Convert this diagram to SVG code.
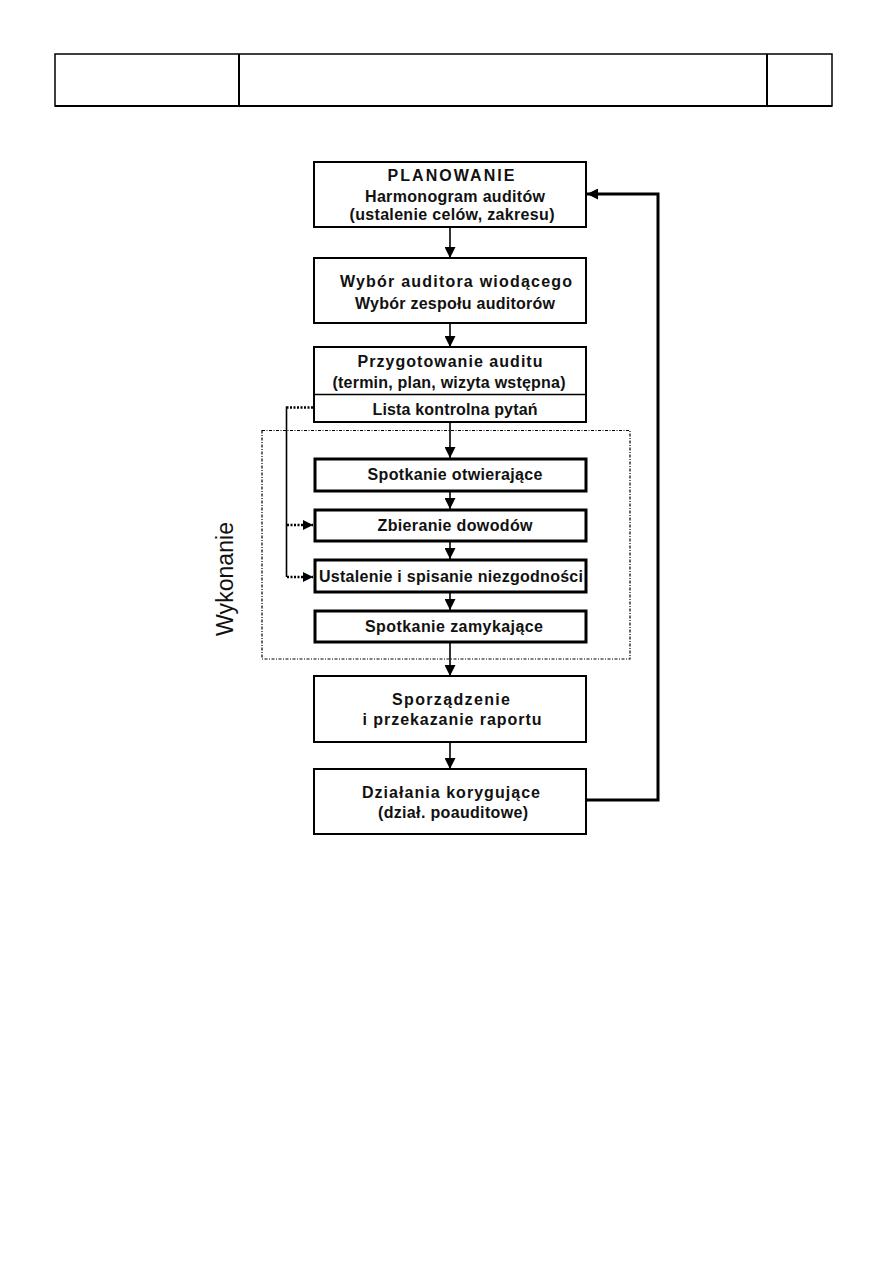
<svg xmlns="http://www.w3.org/2000/svg" width="893" height="1263" viewBox="0 0 893 1263">
<style>
.box{fill:#fff;stroke:#000;stroke-width:2}
.thick{fill:#fff;stroke:#000;stroke-width:3}
.t{font-family:"Liberation Sans",Arial,sans-serif;font-size:16px;font-weight:bold;fill:#111;text-anchor:middle}
.ln{fill:none;stroke:#000;stroke-width:1.6}
.dot{fill:none;stroke:#000;stroke-width:2.5;stroke-dasharray:2,1.5}
.hdr{fill:none;stroke:#000;stroke-width:1.5}
</style>
<defs>
<marker id="ah" viewBox="0 0 10 10" refX="10" refY="5" markerWidth="11" markerHeight="11" markerUnits="userSpaceOnUse" orient="auto">
<path d="M0,0 L10,5 L0,10 z" fill="#000"/>
</marker>
<marker id="ah2" viewBox="0 0 10 10" refX="10" refY="5" markerWidth="10" markerHeight="10" markerUnits="userSpaceOnUse" orient="auto">
<path d="M0,0 L10,5 L0,10 z" fill="#000"/>
</marker>
</defs>
<rect width="893" height="1263" fill="#fff"/>
<g id="header">
<rect x="55" y="54" width="777" height="52" class="hdr"/>
<line x1="55" y1="106" x2="832" y2="106" stroke="#000" stroke-width="2"/>
<line x1="239" y1="54" x2="239" y2="106" stroke="#000" stroke-width="2"/>
<line x1="767" y1="54" x2="767" y2="106" stroke="#000" stroke-width="2"/>
</g>
<g id="wykonanie-frame">
<rect x="262" y="430.5" width="368" height="228.5" fill="none" stroke="#000" stroke-width="1.2" stroke-dasharray="3,1.5,1,1.5"/>
<text class="t" style="font-weight:normal;font-size:23px" transform="translate(233,579) rotate(-90)" textLength="114" lengthAdjust="spacingAndGlyphs">Wykonanie</text>
</g>
<g id="connectors">
<line x1="450" y1="228" x2="450" y2="258" class="ln" marker-end="url(#ah)"/>
<line x1="450" y1="324" x2="450" y2="347" class="ln" marker-end="url(#ah)"/>
<line x1="450" y1="422" x2="450" y2="458" class="ln" marker-end="url(#ah)"/>
<line x1="450" y1="491" x2="450" y2="509" class="ln" marker-end="url(#ah)"/>
<line x1="450" y1="541" x2="450" y2="559" class="ln" marker-end="url(#ah)"/>
<line x1="450" y1="593" x2="450" y2="610" class="ln" marker-end="url(#ah)"/>
<line x1="450" y1="643" x2="450" y2="676" class="ln" marker-end="url(#ah)"/>
<line x1="450" y1="742" x2="450" y2="769" class="ln" marker-end="url(#ah)"/>
<polyline points="586,800 658,800 658,194 587,194" fill="none" stroke="#000" stroke-width="3" marker-end="url(#ah)"/>
<line x1="313" y1="407.5" x2="286" y2="407.5" class="dot"/>
<line x1="286.5" y1="406.5" x2="286.5" y2="577" class="ln"/>
<line x1="287" y1="525" x2="313" y2="525" class="dot" marker-end="url(#ah2)"/>
<line x1="287" y1="577" x2="313" y2="577" class="dot" marker-end="url(#ah2)"/>
</g>
<g id="n-planowanie">
<rect x="314" y="162" width="272" height="65" class="box"/>
<text class="t" x="451" y="181" textLength="127" lengthAdjust="spacing">PLANOWANIE</text>
<text class="t" x="455" y="202" textLength="180" lengthAdjust="spacing">Harmonogram auditów</text>
<text class="t" x="452" y="220" textLength="205" lengthAdjust="spacing">(ustalenie celów, zakresu)</text>
</g>
<g id="n-wybor">
<rect x="314" y="258" width="272" height="65" class="box"/>
<text class="t" x="456" y="287" textLength="232" lengthAdjust="spacing">Wybór auditora wiodącego</text>
<text class="t" x="455" y="309" textLength="200" lengthAdjust="spacing">Wybór zespołu auditorów</text>
</g>
<g id="n-przygotowanie">
<rect x="314" y="347" width="272" height="75" class="box"/>
<line x1="314" y1="394.5" x2="586" y2="394.5" stroke="#000" stroke-width="1.5"/>
<text class="t" x="450" y="367" textLength="185" lengthAdjust="spacing">Przygotowanie auditu</text>
<text class="t" x="449" y="388" textLength="233" lengthAdjust="spacing">(termin, plan, wizyta wstępna)</text>
<text class="t" x="455" y="415" textLength="165" lengthAdjust="spacing">Lista kontrolna pytań</text>
</g>
<g id="n-otwierajace">
<rect x="315" y="459" width="271" height="32" class="thick"/>
<text class="t" x="455" y="480" textLength="175" lengthAdjust="spacing">Spotkanie otwierające</text>
</g>
<g id="n-zbieranie">
<rect x="315" y="510" width="271" height="31" class="thick"/>
<text class="t" x="455" y="531" textLength="155" lengthAdjust="spacing">Zbieranie dowodów</text>
</g>
<g id="n-ustalenie">
<rect x="315" y="560" width="271" height="32" class="thick"/>
<text class="t" x="451" y="582" textLength="264" lengthAdjust="spacing">Ustalenie i spisanie niezgodności</text>
</g>
<g id="n-zamykajace">
<rect x="315" y="611" width="271" height="31" class="thick"/>
<text class="t" x="454" y="632" textLength="178" lengthAdjust="spacing">Spotkanie zamykające</text>
</g>
<g id="n-raport">
<rect x="314" y="676" width="272" height="66" class="box"/>
<text class="t" x="451" y="705" textLength="118" lengthAdjust="spacing">Sporządzenie</text>
<text class="t" x="452" y="725" textLength="179" lengthAdjust="spacing">i przekazanie raportu</text>
</g>
<g id="n-dzialania">
<rect x="314" y="769" width="272" height="65" class="box"/>
<text class="t" x="451" y="798" textLength="178" lengthAdjust="spacing">Działania korygujące</text>
<text class="t" x="453" y="818" textLength="150" lengthAdjust="spacing">(dział. poauditowe)</text>
</g>
</svg>
